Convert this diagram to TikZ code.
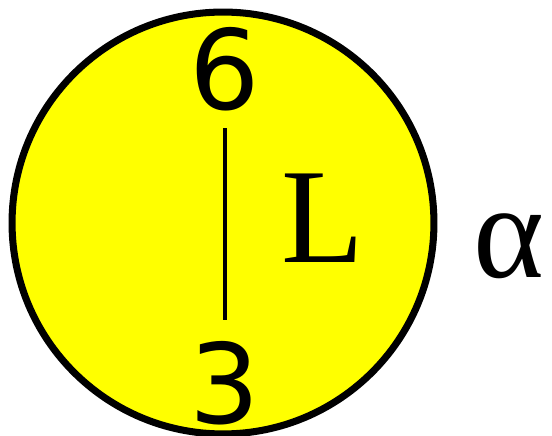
\documentclass[tikz,border=0pt]{standalone}
\usepackage{fontspec}
\usepackage{tikz}
\usetikzlibrary{positioning}
\newfontfamily\digitfont{DejaVu Sans}
\newfontfamily\letterfont{Liberation Serif}
\definecolor{discyellow}{RGB}{255,255,0}

\begin{document}
\begin{tikzpicture}[
      x=0.02cm, y=-0.02cm,
      disc/.style={circle, draw, fill=discyellow, line width=4pt,
                   minimum size=8.44cm, inner sep=0pt},
      digit/.style={inner sep=0pt, font=\digitfont\fontsize{63}{70}\selectfont},
      letter/.style={inner sep=0pt, font=\letterfont\fontsize{77}{84}\selectfont}]
    \useasboundingbox (0,0) rectangle (552,436);
    \node[disc]          (ring)  at (223,223) {};
    \node[digit]         (six)   at (225,69)  {6};
    \node[digit]         (three) at (225,383) {3};
    \node[letter]        (len)   at (323,218) {L};
    \node[letter]        (alpha) at (509,246) {α};
    \draw[line width=2.8pt, shorten <=0.34cm, shorten >=0.42cm] (six.south) -- (three.north);
  \end{tikzpicture}
\end{document}
